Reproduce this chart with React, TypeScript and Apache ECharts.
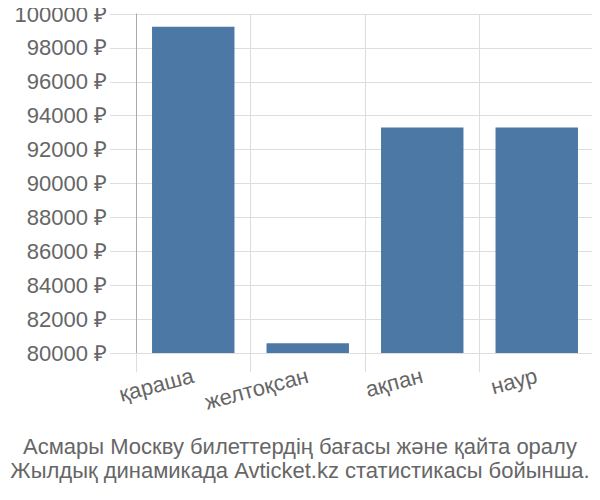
import React, { useEffect, useRef } from 'react';
import * as echarts from 'echarts';

// Months (Kazakh) and ticket prices in roubles
const months = ['қараша', 'желтоқсан', 'ақпан', 'наур'];
const prices = [99250, 80580, 93300, 93300];
const captionLines = [
  'Асмары Москву билеттердің бағасы және қайта оралу',
  'Жылдық динамикада Avticket.kz статистикасы бойынша.',
];

const FONT = '"Liberation Sans", Arial, sans-serif';
const TEXT_COLOR = '#666';
const GRID_COLOR = '#ddd';

const App: React.FC = () => {
  const chartRef = useRef<HTMLDivElement>(null);

  useEffect(() => {
    if (!chartRef.current) return;
    const chart = echarts.init(chartRef.current, null, { renderer: 'svg' });

    const option: echarts.EChartsOption = {
      animation: false,
      backgroundColor: '#fff',
      textStyle: { fontFamily: FONT },
      grid: { left: 136, right: 6, top: 14, bottom: 147 },
      xAxis: {
        type: 'category',
        data: months,
        axisLine: { lineStyle: { color: GRID_COLOR, width: 1 } },
        axisTick: { show: true, length: 19, lineStyle: { color: GRID_COLOR } },
        splitLine: { show: true, lineStyle: { color: GRID_COLOR } },
        axisLabel: {
          color: TEXT_COLOR,
          fontSize: 22,
          fontFamily: FONT,
          rotate: 15,
          margin: 22,
          interval: 0,
        },
      },
      yAxis: {
        type: 'value',
        min: 80000,
        max: 100000,
        interval: 2000,
        axisLine: { show: true, lineStyle: { color: '#aaa', width: 1 } },
        axisTick: { show: true, length: 26, lineStyle: { color: GRID_COLOR } },
        splitLine: { show: true, lineStyle: { color: GRID_COLOR } },
        axisLabel: {
          color: TEXT_COLOR,
          fontSize: 22,
          fontFamily: FONT,
          margin: 29,
          formatter: (v: number) => `${v} ₽`,
        },
      },
      series: [
        {
          type: 'bar',
          data: prices,
          barCategoryGap: '28%',
          itemStyle: { color: '#4c78a6' },
        },
      ],
      graphic: captionLines.map((line, i) => ({
        type: 'text',
        x: 300,
        y: 446 + i * 24,
        style: {
          text: line,
          fill: TEXT_COLOR,
          font: `22px ${FONT}`,
          textAlign: 'center',
          textVerticalAlign: 'middle',
        },
      })),
    };

    chart.setOption(option);
    return () => chart.dispose();
  }, []);

  return <div ref={chartRef} style={{ width: 600, height: 500, margin: -8 }} />;
};

export default App;
